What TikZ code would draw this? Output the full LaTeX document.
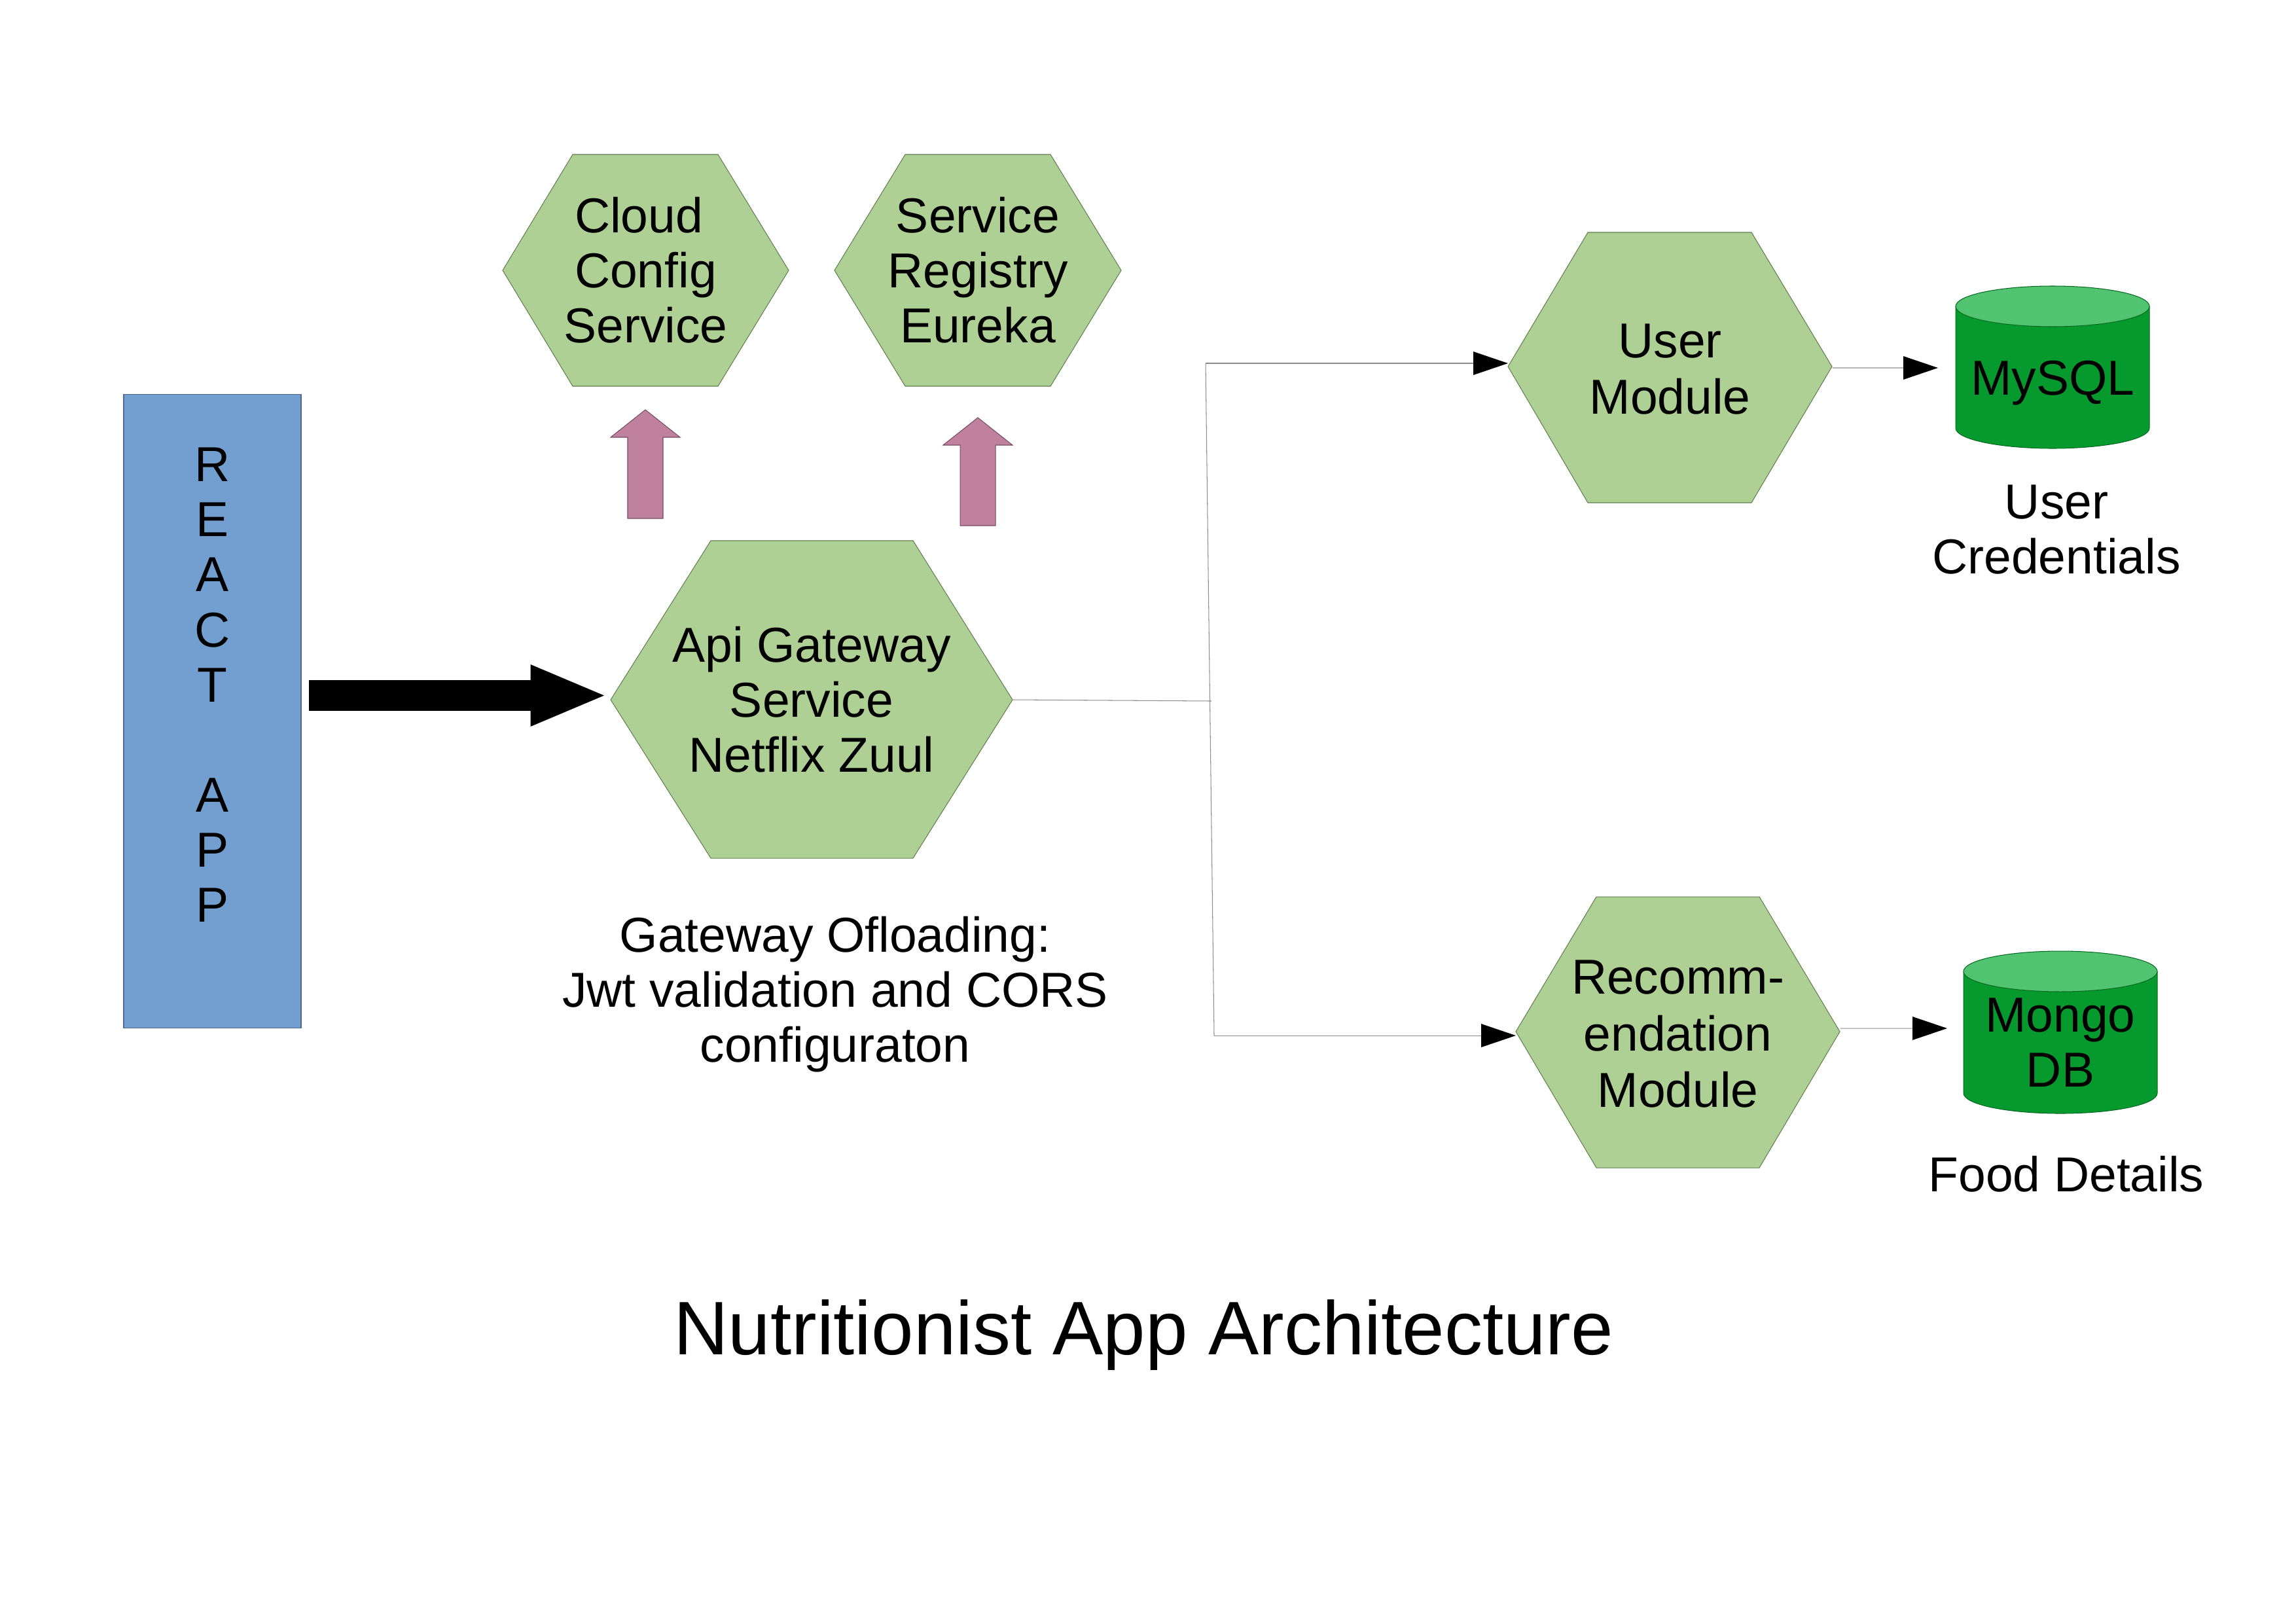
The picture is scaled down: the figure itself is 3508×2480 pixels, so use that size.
\documentclass[tikz,border=0pt]{standalone}
\usepackage{fontspec}
\setmainfont{Liberation Sans}
\usetikzlibrary{arrows.meta}
\definecolor{hexgreen}{HTML}{AFD095}
\definecolor{hexline}{HTML}{5F7F50}
\definecolor{appblue}{HTML}{729FCF}
\definecolor{bluepen}{HTML}{4A6A8C}
\definecolor{pinkarrow}{HTML}{BF819E}
\definecolor{pinkline}{HTML}{7A4A62}
\definecolor{dbgreen}{HTML}{069A2E}
\definecolor{dbtop}{HTML}{52C370}
\definecolor{dbline}{HTML}{046A20}
\tikzset{
  x=0.24pt,y=-0.24pt,
  body/.style={font=\fontsize{18}{20.2}\selectfont,align=center,inner sep=0pt,text=black},
  titletext/.style={font=\fontsize{27.8}{32}\selectfont,align=center,inner sep=0pt,text=black},
  hexshape/.style={fill=hexgreen,draw=hexline,line width=0.25pt},
  dbbody/.style={fill=dbgreen,draw=dbline,line width=0.25pt},
  dblid/.style={fill=dbtop,draw=dbline,line width=0.25pt},
  pinkup/.style={fill=pinkarrow,draw=pinkline,line width=0.25pt},
  wire/.style={draw=black!45,line width=0.25pt},
  feed/.style={wire,-{Triangle[length=12.7pt,width=8.6pt,color=black,fill=black,line width=0pt]}},
  bigfeed/.style={draw=black,line width=11.3pt,-{Triangle[length=27pt,width=22.8pt,line width=0pt]}}
}
% name, left, right, inset-left x, inset-right x, top, bottom, mid y, text
\newcommand{\hexbox}[9]{%
  \path[hexshape] (#2,#8) -- (#4,#6) -- (#5,#6) -- (#3,#8) -- (#5,#7) -- (#4,#7) -- cycle;
  \node[body,minimum width={(#3-#2)*0.24pt},minimum height={(#7-#6)*0.24pt}] (#1) at ({(#2+#3)/2},#8) {#9};
}
% centre x, half width, lid centre y, base centre y
\newcommand{\dbcan}[4]{%
  \path[dbbody] ({#1-#2},#3) -- ({#1-#2},#4) arc[start angle=180,end angle=360,x radius={#2*0.24pt},y radius=7.44pt] -- ({#1+#2},#3) -- cycle;
  \path[dblid] (#1,#3) ellipse[x radius={#2*0.24pt},y radius=7.44pt];
}
% tip x, tip y, head half width, shaft half width, head base y, bottom y
\newcommand{\pinkarrowup}[6]{%
  \path[pinkup] (#1,#2) -- ({#1+#3},#5) -- ({#1+#4},#5) -- ({#1+#4},#6) -- ({#1-#4},#6) -- ({#1-#4},#5) -- ({#1-#3},#5) -- cycle;
}
\begin{document}
\begin{tikzpicture}
\useasboundingbox (0,0) rectangle (3508,2480);

% React app
\node[body,draw=bluepen,fill=appblue,line width=0.25pt,minimum width={271*0.24pt},minimum height={968*0.24pt}] (react) at (324.5,1086.5)
  {R\\E\\A\\C\\T\\\mbox{}\\A\\P\\P\\[-0.96pt]\mbox{}};

% Hexagons
\hexbox{cloud}{768}{1205}{875}{1097}{236}{590}{413}{\mbox{Cloud\ }\\Config\\Service}
\hexbox{registry}{1275}{1713}{1383}{1605}{236}{590}{413}{Service\\Registry\\Eureka}
\hexbox{gateway}{933}{1547}{1086}{1395}{826}{1311}{1069}{Api Gateway\\Service\\Netflix Zuul}
\hexbox{user}{2304}{2799}{2426}{2676}{355}{768}{560}{\rule{0pt}{14.4pt}User\\[0.4pt]Module}
\hexbox{recommend}{2316}{2811}{2439}{2688}{1370}{1784}{1576}{\rule{0pt}{14.1pt}Recomm-\\[0.5pt]endation\\[0.5pt]Module}

% Pink block arrows
\pinkarrowup{986}{626}{53}{27}{668}{792}
\pinkarrowup{1494}{638}{53}{27}{680}{803}

% Databases
\dbcan{3136}{148}{468}{654}
\dbcan{3148}{148}{1484}{1670}
\node[body] (mysql) at (3136,585) {MySQL};
\node[body] (mongo) at (3148,1593) {Mongo\\DB};

% Captions
\node[body] (offload) at (1276,1519) {Gateway Ofloading:\\Jwt validation and CORS\\configuraton};
\node[body] (creds) at (3142,809) {User\\Credentials};
\node[body] (food) at (3157,1794) {Food Details};
\node[titletext] (title) at (1747,2040) {Nutritionist App Architecture};

% Connector helpers
\coordinate (bigstart) at (472,1062.5);
\coordinate (bigend) at (923,1062.5);
\coordinate (junction) at (1851,1071);
\coordinate (upperbend) at (1842,555);
\coordinate (lowerbend) at (1855,1582);
\coordinate (userin) at (2304,555);
\coordinate (recin) at (2316,1582);
\coordinate (mysqlin) at (2961,562);
\coordinate (mongoin) at (2975,1571);

% Connectors
\draw[bigfeed] (bigstart) -- (bigend);
\draw[wire] (gateway.east) -- (junction);
\draw[wire] (upperbend) -- (lowerbend);
\draw[feed] (upperbend) -- (userin);
\draw[feed] (lowerbend) -- (recin);
\draw[feed] ([yshift=-0.48pt]user.east) -- (mysqlin);
\draw[feed] ([yshift=1.2pt]recommend.east) -- (mongoin);
\end{tikzpicture}
\end{document}
